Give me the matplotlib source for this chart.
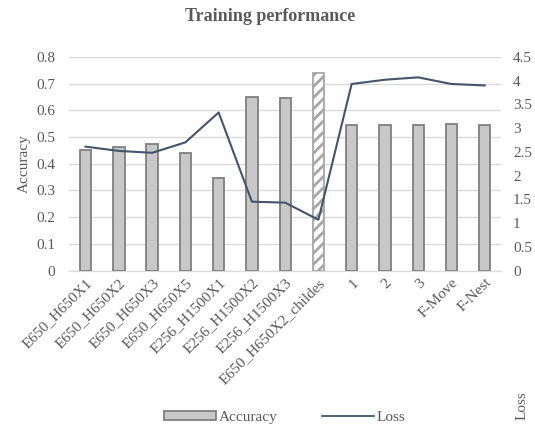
import matplotlib
matplotlib.use('Agg')
import matplotlib.pyplot as plt
import numpy as np
from matplotlib.patches import Patch
from matplotlib.lines import Line2D

# chart data
categories = ['E650_H650X1', 'E650_H650X2', 'E650_H650X3', 'E650_H650X5',
              'E256_H1500X1', 'E256_H1500X2', 'E256_H1500X3', 'E650_H650X2_childes',
              '1', '2', '3', 'F-Move', 'F-Nest']
accuracy = [0.451, 0.464, 0.474, 0.440, 0.345, 0.651, 0.647, 0.741,
            0.545, 0.545, 0.545, 0.547, 0.546]
loss = [2.61, 2.52, 2.48, 2.70, 3.33, 1.45, 1.43, 1.07,
        3.93, 4.02, 4.07, 3.93, 3.90]
hatched_idx = 7

plt.rcParams['font.family'] = ['Liberation Serif', 'DejaVu Serif']
plt.rcParams['hatch.color'] = '#c0c0c0'
plt.rcParams['hatch.linewidth'] = 2.0
txt_color = '#595959'

fig = plt.figure(figsize=(5.35, 4.25), dpi=100)
ax = fig.add_axes([0.129, 0.3635, 0.808, 0.5025])
ax2 = ax.twinx()

x = np.arange(len(categories))
bars = ax.bar(x, accuracy, width=0.34, color='#c8c8c8', edgecolor='#7f7f7f',
              linewidth=1.3, zorder=3)
bars[hatched_idx].set_facecolor('white')
bars[hatched_idx].set_hatch('///')
bars[hatched_idx].set_edgecolor('#a6a6a6')

ax2.plot(x, loss, color='#44546a', linewidth=1.5, zorder=4)

ax.set_ylim(0, 0.8)
ax.set_yticks(np.arange(0, 0.81, 0.1))
ax.set_yticklabels(['0', '0.1', '0.2', '0.3', '0.4', '0.5', '0.6', '0.7', '0.8'])
ax2.set_ylim(0, 4.5)
ax2.set_yticks(np.arange(0, 4.51, 0.5))
ax2.set_yticklabels(['0', '0.5', '1', '1.5', '2', '2.5', '3', '3.5', '4', '4.5'])
ax.set_xlim(-0.5, len(categories) - 0.5)

ax.set_xticks(x)
ax.set_xticklabels(categories, rotation=45, ha='right', rotation_mode='anchor')

ax.yaxis.grid(True, color='#d9d9d9', linewidth=1.0, zorder=0)
ax.set_axisbelow(True)
for a in (ax, ax2):
    for s in a.spines.values():
        s.set_visible(False)
    a.tick_params(axis='both', length=0, labelsize=11, labelcolor=txt_color)
ax.spines['bottom'].set_visible(True)
ax.spines['bottom'].set_color('#d9d9d9')
ax.tick_params(axis='x', pad=4)
ax.tick_params(axis='y', pad=10)
ax2.tick_params(axis='y', pad=8.5)

ax.set_ylabel('Accuracy', fontsize=11, color=txt_color, labelpad=4)
fig.text(0.975, 0.045, 'Loss', rotation=90, fontsize=11, color=txt_color,
         ha='center', va='center')

fig.text(0.505, 0.962, 'Training performance', ha='center', va='center',
         fontsize=13, fontweight='bold', color='#595959')

handles = [Patch(facecolor='#c8c8c8', edgecolor='#7f7f7f', linewidth=1.3),
           Line2D([0], [0], color='#44546a', linewidth=1.3)]
fig.legend(handles, ['Accuracy', 'Loss'], loc='center', bbox_to_anchor=(0.532, 0.018),
           ncol=2, frameon=False, fontsize=11, labelcolor=txt_color,
           handlelength=3.4, handleheight=0.45, columnspacing=2.9, handletextpad=0.2)

fig.savefig('out.png', dpi=100)
